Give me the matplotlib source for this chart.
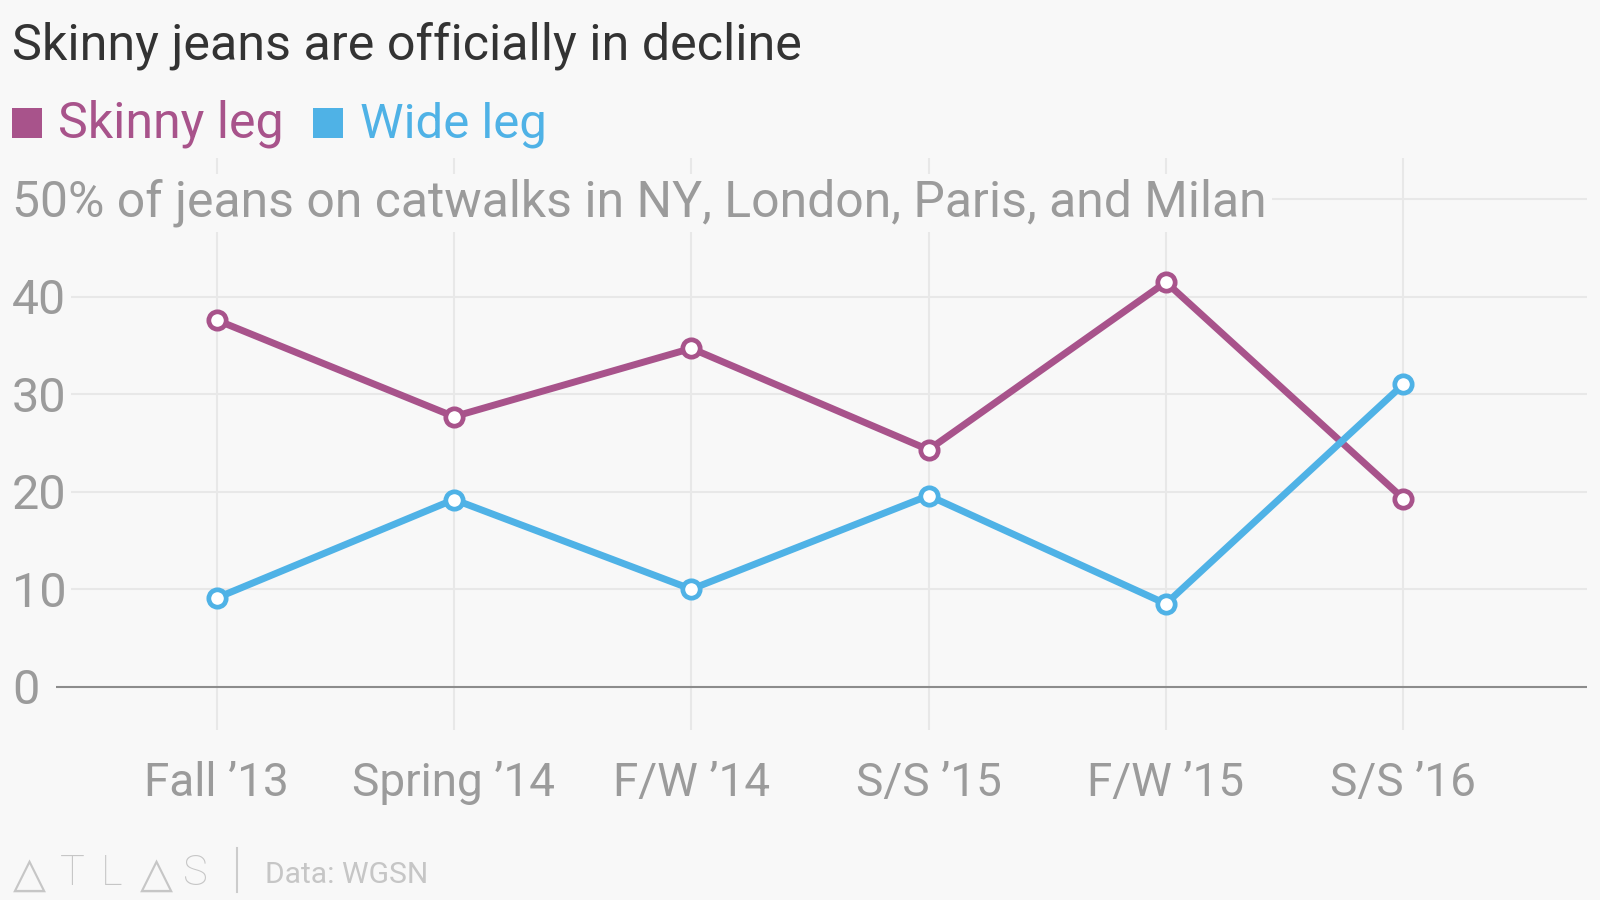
import matplotlib
matplotlib.use("Agg")
import matplotlib.pyplot as plt
import matplotlib.transforms as mtransforms
from matplotlib.patches import Rectangle

# ---- data ----
categories = ["Fall \u201913", "Spring \u201914", "F/W \u201914", "S/S \u201915", "F/W \u201915", "S/S \u201916"]
skinny = [37.6, 27.7, 34.7, 24.3, 41.5, 19.3]
wide = [9.1, 19.2, 10.0, 19.6, 8.5, 31.0]
yticks = [0, 10, 20, 30, 40, 50]
ytick_labels = ["0", "10", "20", "30", "40", "50% of jeans on catwalks in NY, London, Paris, and Milan"]
title = "Skinny jeans are officially in decline"
series_names = ["Skinny leg", "Wide leg"]
source = "Data: WGSN"
logo_letters = ["\u25b3", "T", "L", "\u25b3", "S"]

SKINNY_C = "#a8538b"
WIDE_C = "#4fb2e6"
BG = "#f8f8f8"
GRAY = "#9b9b9b"
GRID = "#e8e8e8"
FOOT = "#c6c6c6"

plt.rcParams['font.family'] = ['Roboto', 'DejaVu Sans']

W, H = 1600, 900
fig = plt.figure(figsize=(16, 9), dpi=100, facecolor=BG)
renderer = fig.canvas.get_renderer()

def px(x, y):
    return x / W, 1 - y / H

def fit_text(t, target_w):
    bb = t.get_window_extent(renderer=renderer)
    t.set_fontsize(t.get_fontsize() * target_w / bb.width)

# axes: x from 56 to 1587 px, y from 158 to 730 px
left, right, top, bottom = 56, 1587, 158, 730
ax = fig.add_axes([left / W, 1 - bottom / H, (right - left) / W, (bottom - top) / H])
ax.set_facecolor(BG)
x = list(range(len(categories)))
sp = 237.3
ax.set_xlim((left - 216.7) / sp, (right - 216.7) / sp)
pu = 9.75
ax.set_ylim(-(bottom - 686.7) / pu, (686.7 - top) / pu)
for s in ax.spines.values():
    s.set_visible(False)
ax.set_xticks([])
ax.set_yticks([])

for xi in x:
    ax.axvline(xi, color=GRID, lw=1.5, zorder=0)
for yv in yticks[1:]:
    ax.axhline(yv, color=GRID, lw=1.5, zorder=0)
ax.axhline(0, color="#8c8c8c", lw=1.5, zorder=1)

# y tick labels (inside, with background)
for yv, lab in zip(yticks, ytick_labels):
    tr = mtransforms.offset_copy(ax.transData, fig=fig, x=0, y=-17.5, units='dots')
    tr = mtransforms.blended_transform_factory(fig.transFigure, tr)
    t = ax.text(12 / W, yv, lab, transform=tr, ha='left', va='baseline',
                color=GRAY, fontsize=35, zorder=2,
                bbox=dict(boxstyle='square,pad=0.1', fc=BG, ec='none'))
    if yv == 50:
        fit_text(t, 1253)
    elif yv == 40:
        fit_text(t, 54)

# x tick labels
for xi, lab in zip(x, categories):
    tr = mtransforms.blended_transform_factory(ax.transData, fig.transFigure)
    ax.text(xi, 1 - 796 / H, lab, transform=tr, ha='center', va='baseline',
            color=GRAY, fontsize=33, clip_on=False)

lw = 5.0
mk = dict(marker='o', markersize=12.5, markerfacecolor='white', markeredgewidth=3.4)
ax.plot(x, skinny, color=SKINNY_C, lw=lw, markeredgecolor=SKINNY_C, zorder=4, clip_on=False, **mk)
ax.plot(x, wide, color=WIDE_C, lw=lw, markeredgecolor=WIDE_C, zorder=5, clip_on=False, **mk)

# title
tt = fig.text(*px(12, 59), title, ha='left', va='baseline', color='#333333', fontsize=32)
fit_text(tt, 790)

# legend
fig.patches.append(Rectangle(px(12, 138), 30 / W, 30 / H, transform=fig.transFigure,
                             fc=SKINNY_C, ec='none'))
t1 = fig.text(*px(58, 138), series_names[0], ha='left', va='baseline', color=SKINNY_C, fontsize=34)
fit_text(t1, 226)
fig.patches.append(Rectangle(px(313, 138), 30 / W, 30 / H, transform=fig.transFigure,
                             fc=WIDE_C, ec='none'))
t2 = fig.text(*px(360, 138), series_names[1], ha='left', va='baseline', color=WIDE_C, fontsize=34)
fit_text(t2, 187)

# footer logo (letters placed individually)
logo_x = [29, 72, 112, 156, 195]
for lx, ch in zip(logo_x, logo_letters):
    if ch == "\u25b3":
        lt = fig.text(*px(lx, 887), ch, ha='center', va='baseline', color=FOOT,
                      fontsize=30, family=['DejaVu Sans'])
        fit_text(lt, 33)
    else:
        fig.text(*px(lx, 885), ch, ha='center', va='baseline', color=FOOT,
                 fontsize=30, fontweight='light', family=['Roboto', 'DejaVu Sans'])
fig.lines.append(plt.Line2D([237 / W, 237 / W], [1 - 848 / H, 1 - 892 / H],
                            transform=fig.transFigure, color='#cccccc', lw=1.5))
fs = fig.text(*px(265, 883), source, ha='left', va='baseline', color=FOOT, fontsize=22)
fit_text(fs, 163)

fig.savefig("out.png", dpi=100, facecolor=BG)
